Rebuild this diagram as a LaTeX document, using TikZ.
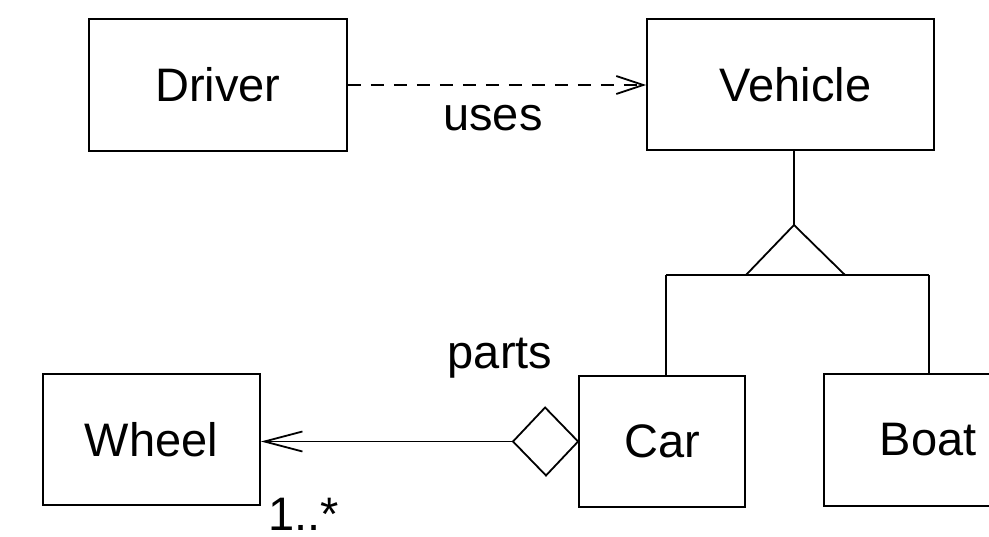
\documentclass[tikz,border=0pt]{standalone}
\usepackage{fontspec}
\setmainfont{Liberation Sans}
\usetikzlibrary{arrows.meta}
\begin{document}
\begin{tikzpicture}[x=1pt,y=-1pt,
  every node/.style={font=\fontsize{47}{56}\selectfont},
  umlbox/.style={draw,line width=1.8pt,rectangle,inner sep=0pt},
  conn/.style={line width=1.8pt},
  lbl/.style={inner sep=0pt,anchor=base}]
\clip (0,0) rectangle (989,537);
\fill[white] (0,0) rectangle (989,537);
\node[umlbox,minimum width=258pt,minimum height=132pt] (driver) at (218,85) {Driver};
\node[umlbox,minimum width=287pt,minimum height=131pt] (vehicle) at (790.5,84.5) {\hspace*{10pt}Vehicle};
\node[umlbox,minimum width=217pt,minimum height=131pt] (wheel) at (151.5,439.5) {Wheel};
\node[umlbox,minimum width=166pt,minimum height=131pt] (car) at (662,441.5) {Car};
\node[umlbox,minimum width=208pt,minimum height=132pt] (boat) at (928,440) {Boat};
% dependency
\draw[conn,dash pattern=on 13pt off 10pt,-{Straight Barb[length=27pt,width=18pt,line width=1.8pt]}]
  (driver.east) -- (vehicle.west |- driver.east);
\node[lbl] (uses) at (493,131) {uses};
% generalization
\coordinate (apex) at (794,225);
\coordinate (tl) at (746,275);
\coordinate (tr) at (845,275);
\coordinate (hl) at (666,275);
\coordinate (hr) at (929,275);
\draw[conn] (vehicle.south -| apex) -- (apex);
\draw[conn,line join=miter] (tl) -- (apex) -- (tr) -- cycle;
\draw[conn] (hl) -- (hr);
\draw[conn] (hl) -- (car.north -| hl);
\draw[conn] (hr) -- (boat.north -| hr);
% aggregation
\coordinate (dl) at (513,441.5);
\draw[conn] (car.west) -- ++(-33,-34) -- (dl) -- ++(33,34) -- cycle;
\draw[conn,-{Straight Barb[length=38pt,width=20pt,line width=1.8pt]}] (dl) -- (wheel.east |- dl);
\node[lbl] (parts) at (500,369) {parts};
\node[lbl,anchor=base west] (mult) at (268,530) {1..*};
\end{tikzpicture}
\end{document}
